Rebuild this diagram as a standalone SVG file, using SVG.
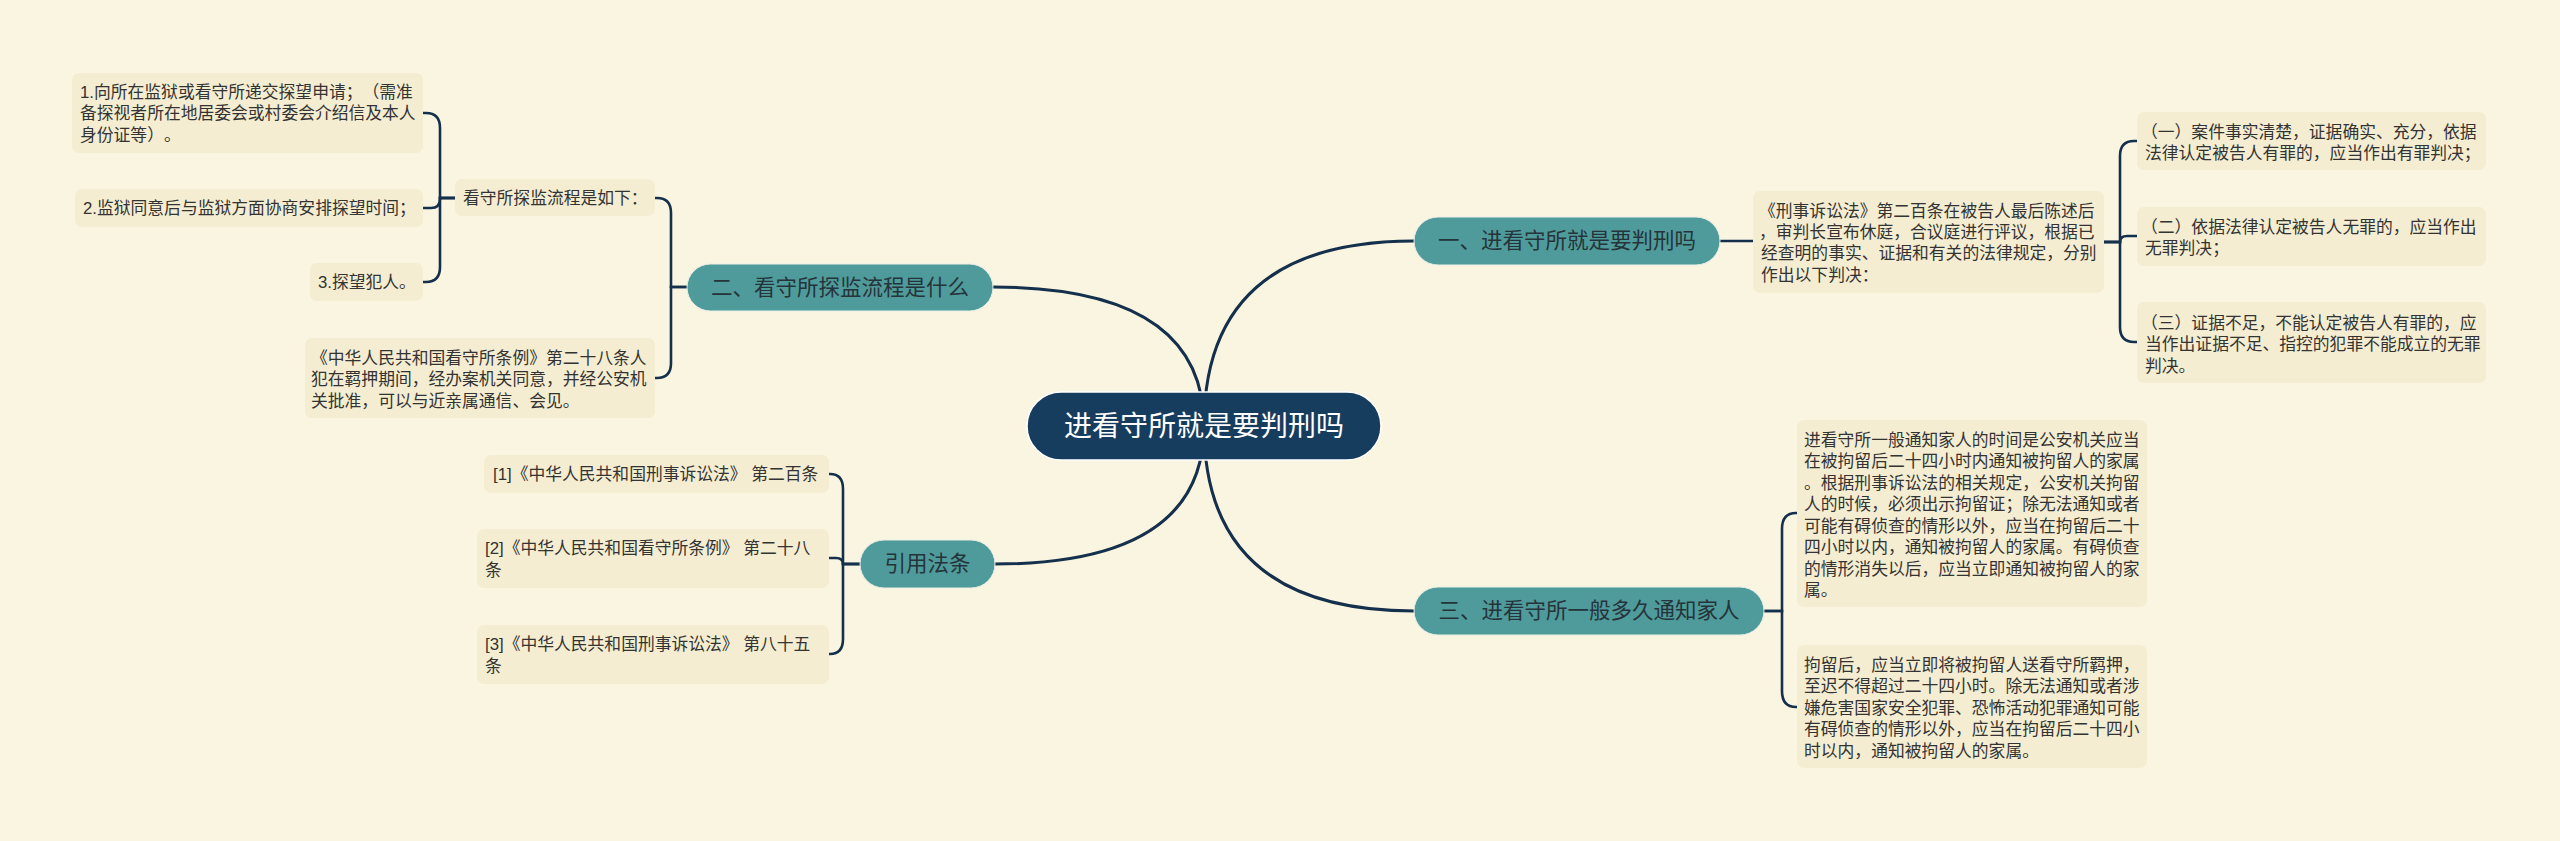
<svg xmlns="http://www.w3.org/2000/svg" width="2560" height="841" viewBox="0 0 2560 841">
<style>
.bg{fill:#faf5e1}
.box{fill:#f4edd1}
.topic{fill:#4f9b9b;stroke:#e9efe6;stroke-width:1}
.root{fill:#173d5e;stroke:#ffffff;stroke-width:1.5}
text{text-spacing-trim:space-all}
.t{font-family:"Liberation Sans","Noto Sans CJK SC",sans-serif;font-size:16.8px;fill:#333333;dominant-baseline:central}
.tt{font-family:"Liberation Sans","Noto Sans CJK SC",sans-serif;font-size:21.5px;fill:#25343a;dominant-baseline:central;text-anchor:middle}
.rt{font-family:"Liberation Sans","Noto Sans CJK SC",sans-serif;font-size:28px;fill:#ffffff;dominant-baseline:central;text-anchor:middle}
.c{fill:none;stroke:#15304c;stroke-width:2.6;stroke-linecap:round}
.cm{fill:none;stroke:#15304c;stroke-width:3}
</style>
<rect class="bg" x="0" y="0" width="2560" height="841"/>
<g id="connectors">
<path class="cm" d="M1204 426 Q1204 241 1414 241"/>
<path class="cm" d="M1204 426 Q1204 611 1414 611"/>
<path class="cm" d="M1204 426 Q1204 287 993 287"/>
<path class="cm" d="M1204 426 Q1204 564 995 564"/>
<path class="c" d="M687 287 H671 V213 Q671 198 657 198 H655"/>
<path class="c" d="M687 287 H671 V363 Q671 378 657 378 H655"/>
<path class="c" d="M455 198 H440 V128 Q440 113 426 113 H423"/>
<path class="c" d="M455 198 H440 V199 Q440 208 431 208 H423"/>
<path class="c" d="M455 198 H440 V267 Q440 282 426 282 H423"/>
<path class="c" d="M860 564 H843 V489 Q843 474 830 474 H829"/>
<path class="c" d="M860 564 H843 Q843 558 836 558 H829"/>
<path class="c" d="M860 564 H843 V639 Q843 654 830 654 H829"/>
<path class="c" d="M1720 241 H1753"/>
<path class="c" d="M2104 242 H2120 V156 Q2120 141 2134 141 H2137"/>
<path class="c" d="M2104 242 H2120 Q2120 236 2127 236 H2137"/>
<path class="c" d="M2104 242 H2120 V327 Q2120 342 2134 342 H2137"/>
<path class="c" d="M1764 611 H1782 V529 Q1782 513 1796 513 H1797"/>
<path class="c" d="M1764 611 H1782 V691 Q1782 707 1796 707 H1797"/>
</g>
<g id="root">
<rect class="root" x="1027" y="392" width="354" height="68" rx="34"/>
<text class="rt" x="1204" y="426">进看守所就是要判刑吗</text>
</g>
<g id="topic1">
<rect class="topic" x="1414" y="217" width="306" height="48" rx="24"/>
<text class="tt" x="1567" y="241">一、进看守所就是要判刑吗</text>
</g>
<g id="topic2">
<rect class="topic" x="687" y="264" width="306" height="47" rx="23.5"/>
<text class="tt" x="840" y="287.5">二、看守所探监流程是什么</text>
</g>
<g id="topic3">
<rect class="topic" x="1414" y="587" width="350" height="48" rx="24"/>
<text class="tt" x="1589" y="611">三、进看守所一般多久通知家人</text>
</g>
<g id="topic4">
<rect class="topic" x="860" y="540" width="135" height="48" rx="24"/>
<text class="tt" x="927.5" y="564">引用法条</text>
</g>
<g id="k">
<rect class="box" x="455" y="179" width="200" height="37" rx="7"/>
<text class="t" x="463" y="198">看守所探监流程是如下：</text>
</g>
<g id="a1">
<rect class="box" x="72" y="73" width="351" height="80" rx="7"/>
<text class="t" x="80" y="92">1.向所在监狱或看守所递交探望申请；（需准</text>
<text class="t" x="80" y="113.5">备探视者所在地居委会或村委会介绍信及本人</text>
<text class="t" x="80" y="135">身份证等）。</text>
</g>
<g id="a2">
<rect class="box" x="75" y="189" width="348" height="38" rx="7"/>
<text class="t" x="83" y="208">2.监狱同意后与监狱方面协商安排探望时间；</text>
</g>
<g id="a3">
<rect class="box" x="310" y="263" width="113" height="38" rx="7"/>
<text class="t" x="318" y="282">3.探望犯人。</text>
</g>
<g id="b">
<rect class="box" x="305" y="338" width="350" height="80" rx="7"/>
<text class="t" x="311" y="358">《中华人民共和国看守所条例》第二十八条人</text>
<text class="t" x="311" y="379.5">犯在羁押期间，经办案机关同意，并经公安机</text>
<text class="t" x="311" y="401">关批准，可以与近亲属通信、会见。</text>
</g>
<g id="ref1">
<rect class="box" x="484" y="455" width="345" height="38" rx="7"/>
<text class="t" x="493" y="474">[1]《中华人民共和国刑事诉讼法》 第二百条</text>
</g>
<g id="ref2">
<rect class="box" x="477" y="529" width="352" height="59" rx="7"/>
<text class="t" x="485" y="548.5">[2]《中华人民共和国看守所条例》 第二十八</text>
<text class="t" x="485" y="570">条</text>
</g>
<g id="ref3">
<rect class="box" x="477" y="625" width="352" height="59" rx="7"/>
<text class="t" x="485" y="644.5">[3]《中华人民共和国刑事诉讼法》 第八十五</text>
<text class="t" x="485" y="666">条</text>
</g>
<g id="r">
<rect class="box" x="1753" y="191" width="351" height="102" rx="7"/>
<text class="t" x="1759" y="211">《刑事诉讼法》第二百条在被告人最后陈述后</text>
<text class="t" x="1759" y="232">，审判长宣布休庭，合议庭进行评议，根据已</text>
<text class="t" x="1761" y="253.5">经查明的事实、证据和有关的法律规定，分别</text>
<text class="t" x="1761" y="275">作出以下判决：</text>
</g>
<g id="r1">
<rect class="box" x="2137" y="112" width="349" height="58" rx="7"/>
<text class="t" x="2141" y="132">（一）案件事实清楚，证据确实、充分，依据</text>
<text class="t" x="2145" y="153.5">法律认定被告人有罪的，应当作出有罪判决；</text>
</g>
<g id="r2">
<rect class="box" x="2137" y="207" width="349" height="59" rx="7"/>
<text class="t" x="2141" y="227">（二）依据法律认定被告人无罪的，应当作出</text>
<text class="t" x="2145" y="248.5">无罪判决；</text>
</g>
<g id="r3">
<rect class="box" x="2137" y="302" width="349" height="81" rx="7"/>
<text class="t" x="2141" y="323">（三）证据不足，不能认定被告人有罪的，应</text>
<text class="t" x="2145" y="344.5">当作出证据不足、指控的犯罪不能成立的无罪</text>
<text class="t" x="2145" y="366">判决。</text>
</g>
<g id="n1">
<rect class="box" x="1797" y="420" width="350" height="187" rx="7"/>
<text class="t" x="1804" y="440">进看守所一般通知家人的时间是公安机关应当</text>
<text class="t" x="1804" y="461.5">在被拘留后二十四小时内通知被拘留人的家属</text>
<text class="t" x="1804" y="483">。根据刑事诉讼法的相关规定，公安机关拘留</text>
<text class="t" x="1804" y="504.5">人的时候，必须出示拘留证；除无法通知或者</text>
<text class="t" x="1804" y="526">可能有碍侦查的情形以外，应当在拘留后二十</text>
<text class="t" x="1804" y="547.5">四小时以内，通知被拘留人的家属。有碍侦查</text>
<text class="t" x="1804" y="569">的情形消失以后，应当立即通知被拘留人的家</text>
<text class="t" x="1804" y="590.5">属。</text>
</g>
<g id="n2">
<rect class="box" x="1797" y="645" width="350" height="123" rx="7"/>
<text class="t" x="1804" y="665">拘留后，应当立即将被拘留人送看守所羁押，</text>
<text class="t" x="1804" y="686.5">至迟不得超过二十四小时。除无法通知或者涉</text>
<text class="t" x="1804" y="708">嫌危害国家安全犯罪、恐怖活动犯罪通知可能</text>
<text class="t" x="1804" y="729.5">有碍侦查的情形以外，应当在拘留后二十四小</text>
<text class="t" x="1804" y="751">时以内，通知被拘留人的家属。</text>
</g>
</svg>
